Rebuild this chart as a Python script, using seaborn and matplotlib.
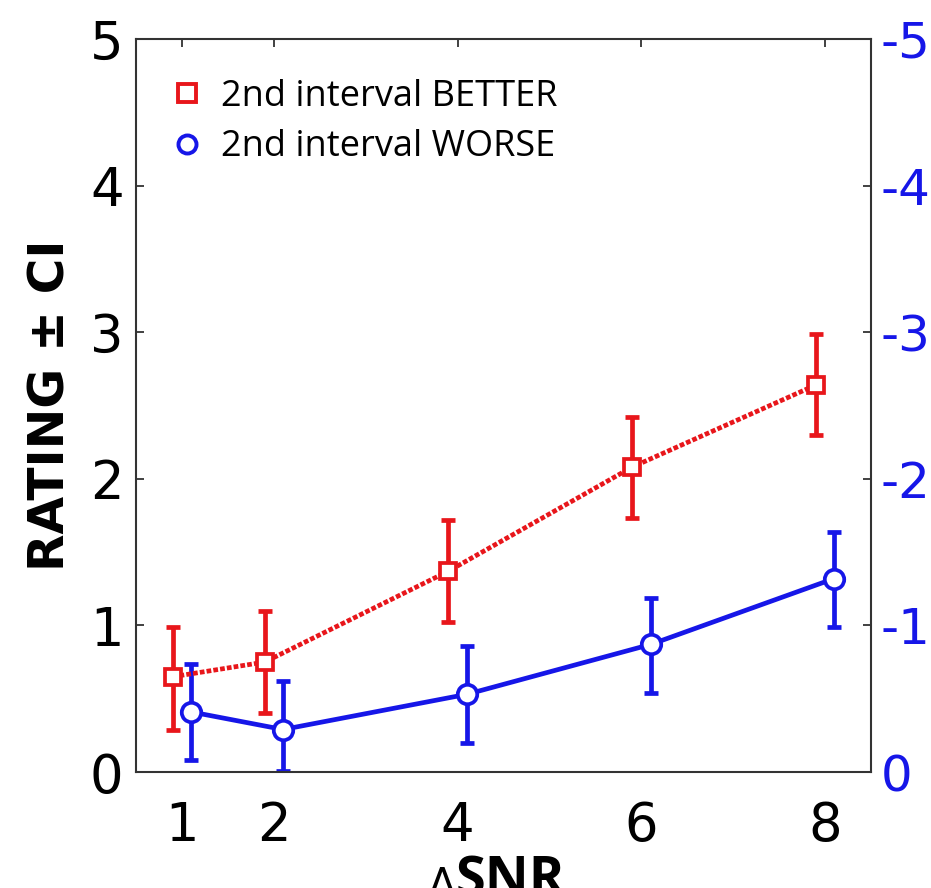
import numpy as np
import pandas as pd
import matplotlib
matplotlib.use("Agg")
import matplotlib.pyplot as plt
import seaborn as sns
from matplotlib.lines import Line2D

sns.set_style("white")
plt.rcParams['font.family'] = ['DejaVu Sans']
plt.rcParams['axes.unicode_minus'] = False
plt.rcParams['text.color'] = 'black'
plt.rcParams['axes.labelcolor'] = 'black'


# DATA

snr = [1, 2, 4, 6, 8]

better_mean = [0.65, 0.75, 1.37, 2.08, 2.64]
better_lo = [0.29, 0.40, 1.02, 1.73, 2.30]
better_hi = [0.99, 1.10, 1.72, 2.42, 2.99]

worse_mean = [0.41, 0.29, 0.53, 0.87, 1.32]
worse_lo = [0.08, 0.01, 0.20, 0.54, 0.99]
worse_hi = [0.74, 0.62, 0.86, 1.19, 1.64]

conditions = ["2nd interval BETTER", "2nd interval WORSE"]
left_ticks = [0, 1, 2, 3, 4, 5]
right_ticklabels = ["0", "-1", "-2", "-3", "-4", "-5"]

red = "#e8161b"
blue = "#1616e8"


# LONG TABLE

df = pd.concat([
    pd.DataFrame({"condition": conditions[0], "snr": snr, "rating": better_mean,
                  "lo": better_lo, "hi": better_hi}),
    pd.DataFrame({"condition": conditions[1], "snr": snr, "rating": worse_mean,
                  "lo": worse_lo, "hi": worse_hi}),
], ignore_index=True)

# small horizontal dodge so the bars don't overlap
dodge = {conditions[0]: -0.1, conditions[1]: 0.1}
df["x"] = df["snr"] + df["condition"].map(dodge)


# FIGURE

fig = plt.figure(figsize=(9.31, 8.88), dpi=100)
ax = fig.add_axes([0.1461, 0.1306, 0.7895, 0.8255])

styles = {
    conditions[0]: dict(color=red, marker="s", ms=11, ls=(0, (1, 0.45))),
    conditions[1]: dict(color=blue, marker="o", ms=14, ls="-"),
}

for cond in conditions:
    sub = df[df["condition"] == cond]
    st = styles[cond]
    ax.errorbar(sub["x"], sub["rating"],
                yerr=[sub["rating"] - sub["lo"], sub["hi"] - sub["rating"]],
                fmt="none", ecolor=st["color"], elinewidth=3.4, capsize=4.8,
                capthick=3.4, zorder=2)
    sns.lineplot(data=sub, x="x", y="rating", ax=ax, color=st["color"],
                 linestyle=st["ls"], linewidth=3.4, marker=st["marker"],
                 markersize=st["ms"], markerfacecolor="white",
                 markeredgecolor=st["color"], markeredgewidth=2.7,
                 legend=False, zorder=3)

ax.set_xlim(0.5, 8.5)
ax.set_ylim(0, 5)
ax.set_xticks(snr)
ax.set_yticks(left_ticks)
ax.set_xlabel("")
ax.set_ylabel("RATING ± CI", fontsize=35, fontweight="bold", labelpad=11)

ax.tick_params(axis="both", direction="in", length=6, width=1.3,
               color="#333333", labelsize=38, labelcolor="black", top=True)
ax.tick_params(axis="x", pad=20)
ax.tick_params(axis="y", pad=9)
for s in ax.spines.values():
    s.set_color("#333333")
    s.set_linewidth(1.5)
    s.set_visible(True)

# right axis, blue, inverted labels
ax2 = ax.twinx()
ax2.set_ylim(0, 5)
ax2.set_yticks(left_ticks)
ax2.set_yticklabels(right_ticklabels)
ax2.tick_params(axis="y", direction="in", length=6, width=1.3, color="#333333",
                labelsize=36, labelcolor=blue, pad=7)
for s in ax2.spines.values():
    s.set_visible(False)

# legend with markers only
handles = [
    Line2D([], [], ls="none", marker="s", ms=13, mfc="white", mec=red, mew=2.8),
    Line2D([], [], ls="none", marker="o", ms=13, mfc="white", mec=blue, mew=2.8),
]
leg = ax.legend(handles, conditions, loc="upper left", bbox_to_anchor=(0.0, 0.99),
                frameon=False, handlelength=1.0, handletextpad=0.45,
                labelspacing=0.4, borderaxespad=0.5,
                prop={"family": "Open Sans", "size": 26})
for t in leg.get_texts():
    t.set_color("black")

# x label, partly cut at the bottom edge as in the original
fig.text(0.489, -0.009, "Δ", ha="right", va="baseline", fontsize=28, color="black")
fig.text(0.489, -0.009, "SNR", ha="left", va="baseline", fontsize=39,
         fontweight="bold", family="Open Sans", color="black")

fig.savefig("out.png", dpi=100)
